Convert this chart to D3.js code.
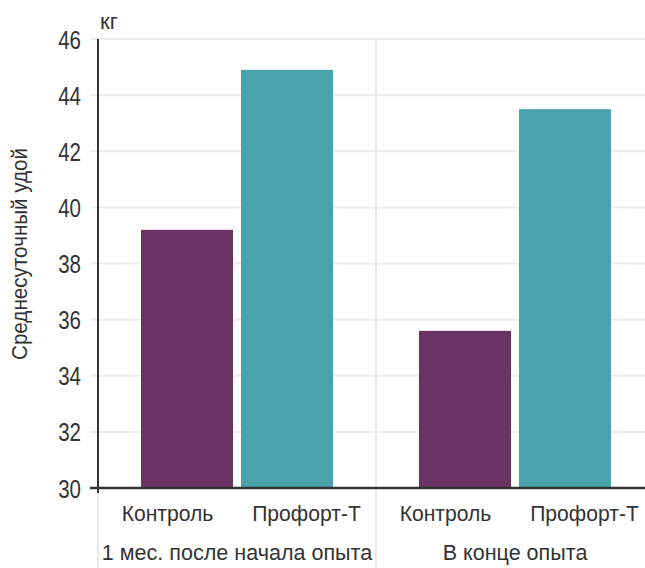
<!DOCTYPE html>
<html><head><meta charset="utf-8">
<script src="https://cdn.jsdelivr.net/npm/d3@7/dist/d3.min.js"></script>
<style>
html,body{margin:0;padding:0;background:#fff;}
svg{display:block;}
text{font-family:"Liberation Sans",Arial,sans-serif;fill:#333;}
</style></head>
<body>
<svg id="chart" width="645" height="568"></svg>
<script>
const groups = ["1 мес. после начала опыта", "В конце опыта"];
const series = ["Контроль", "Профорт-Т"];
const controlValues = [39.2, 35.6];
const profortValues = [44.9, 43.5];
const yTicks = [30, 32, 34, 36, 38, 40, 42, 44, 46];
const yTitle = "Среднесуточный удой";
const yUnit = "кг";
const colors = ["#6b3363", "#4aa3ac"];

(function () {
const svg = d3.select("#chart");
const pLeft = 98, pRight = 654, pTop = 39, pBottom = 488;

const y = d3.scaleLinear().domain([30, 46]).range([pBottom, pTop]);
const x0 = d3.scaleBand().domain(groups).range([pLeft, pRight]).padding(0);
const x1 = d3.scaleBand().domain(series).range([0, x0.bandwidth()]).paddingInner(0.08).paddingOuter(0.43);
const xl = d3.scaleBand().domain(series).range([0, x0.bandwidth()]).padding(0);

// gridlines
svg.append("g").selectAll("line").data(yTicks.filter(d => d !== 30)).join("line")
  .attr("x1", pLeft - 7).attr("x2", pRight)
  .attr("y1", d => y(d)).attr("y2", d => y(d))
  .attr("stroke", "#ebebeb").attr("stroke-width", 2);

// group dividers
svg.append("g").selectAll("line").data(groups.slice(1)).join("line")
  .attr("x1", d => x0(d)).attr("x2", d => x0(d))
  .attr("y1", pTop).attr("y2", 568)
  .attr("stroke", "#e8e8e8").attr("stroke-width", 2);
svg.append("line").attr("x1", pLeft).attr("x2", pLeft).attr("y1", pBottom + 4).attr("y2", 568)
  .attr("stroke", "#e8e8e8").attr("stroke-width", 2);

// bars
const data = groups.map((g, i) => ({group: g, values: [controlValues[i], profortValues[i]]}));
const gg = svg.append("g").selectAll("g").data(data).join("g")
  .attr("transform", d => `translate(${x0(d.group)},0)`);
gg.selectAll("rect").data(d => d.values.map((v, j) => ({s: series[j], v, j}))).join("rect")
  .attr("x", d => x1(d.s)).attr("width", x1.bandwidth())
  .attr("y", d => y(d.v)).attr("height", d => y(30) - y(d.v))
  .attr("fill", d => colors[d.j]);

// category labels
gg.selectAll("text.cat").data(series).join("text").attr("class", "cat")
  .attr("transform", d => `translate(${xl(d) + xl.bandwidth() / 2},521) scale(0.96,1)`)
  .attr("text-anchor", "middle").attr("font-size", 22).text(d => d);
// group labels
gg.append("text").attr("transform", `translate(${x0.bandwidth() / 2},560) scale(0.98,1)`)
  .attr("text-anchor", "middle").attr("font-size", 22).text(d => d.group);

// y axis
const yAxis = d3.axisLeft(y).tickValues(yTicks).tickSize(0).tickPadding(17);
const ya = svg.append("g").attr("transform", `translate(${pLeft},0)`).call(yAxis);
ya.select(".domain").remove();
ya.selectAll("text").attr("x", 0).attr("font-size", 25).attr("fill", "#333").attr("dy", "0.36em")
  .attr("transform", "translate(-17,0) scale(0.82,1)")
  .style("font-family", '"Liberation Sans",Arial,sans-serif');

svg.append("line").attr("x1", pLeft).attr("x2", pLeft).attr("y1", pTop).attr("y2", pBottom + 5)
  .attr("stroke", "#333").attr("stroke-width", 2);
svg.append("line").attr("x1", pLeft - 8).attr("x2", pRight).attr("y1", pBottom).attr("y2", pBottom)
  .attr("stroke", "#333").attr("stroke-width", 2.5);

svg.append("text").attr("transform", "translate(100,29)").attr("font-size", 22).text(yUnit);
svg.append("text").attr("transform", `translate(27,254) rotate(-90) scale(0.96,1)`)
  .attr("text-anchor", "middle").attr("font-size", 21.5).text(yTitle);
})();
</script>
</body></html>
